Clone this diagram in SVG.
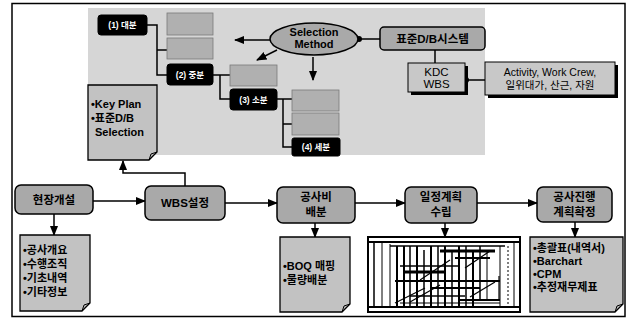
<svg xmlns="http://www.w3.org/2000/svg" width="631" height="322" viewBox="0 0 631 322">
<style>
text{font-family:"Liberation Sans","Noto Sans CJK KR",sans-serif;font-weight:bold;fill:#000}
.node{fill:#a9a9a9;stroke:#000;stroke-width:1.5}
.doc{fill:#c2c2c2;stroke:#000;stroke-width:1.3}
.blk{fill:#000;stroke:#000}
.wt{fill:#fff;font-size:8.5px}
.gbox{fill:#b0b0b0;stroke:#7a7a7a;stroke-width:0.8}
.c{fill:none;stroke:#000;stroke-width:1.5}
.n{font-size:11.5px}
.d{font-size:11px}
.r{font-weight:normal}
.g line{stroke:#000}
</style>
<defs>
<marker id="ah" viewBox="0 0 10 10" refX="9" refY="5" markerWidth="7" markerHeight="7" orient="auto-start-reverse">
<path d="M0,1 L10,5 L0,9 Z" fill="#000"/>
</marker>
<marker id="dot" viewBox="0 0 6 6" refX="3" refY="3" markerWidth="4" markerHeight="4">
<circle cx="3" cy="3" r="3" fill="#000"/>
</marker>
</defs>
<rect x="0" y="0" width="631" height="322" fill="#fff"/>
<rect x="12" y="3.5" width="613" height="313" fill="none" stroke="#000" stroke-width="1.5"/>
<rect id="upper-region" x="88" y="8" width="397" height="147" fill="#d6d6d6"/>

<g id="connectors">
<path class="c" d="M147,25 H157 V75 H167 M157,50 H167"/>
<path class="c" d="M213,75 H230 M220,75 V99 H230"/>
<path class="c" d="M277,99 H292 M283,99 V147 H292 M283,124 H292"/>
<line class="c" x1="270" y1="40" x2="235" y2="40" marker-end="url(#ah)"/>
<line class="c" x1="277" y1="50" x2="257" y2="60" marker-end="url(#ah)"/>
<line class="c" x1="313" y1="57" x2="313" y2="80" marker-end="url(#ah)"/>
<line class="c" x1="359" y1="39" x2="380" y2="39" marker-start="url(#dot)"/>
<line class="c" x1="435" y1="50" x2="435" y2="63"/>
<line class="c" x1="466" y1="80" x2="485" y2="80" marker-start="url(#dot)"/>
<path class="c" d="M185,186 V173 H123 V161" marker-end="url(#ah)"/>
<line class="c" x1="93" y1="201" x2="145" y2="201" marker-end="url(#ah)"/>
<line class="c" x1="225" y1="203" x2="277" y2="203" marker-end="url(#ah)"/>
<line class="c" x1="355" y1="203" x2="405" y2="203" marker-end="url(#ah)"/>
<line class="c" x1="477" y1="203" x2="537" y2="203" marker-end="url(#ah)"/>
<line class="c" x1="54" y1="213" x2="54" y2="235" marker-end="url(#ah)"/>
<line class="c" x1="315" y1="223" x2="315" y2="237" marker-end="url(#ah)"/>
<line class="c" x1="445" y1="223" x2="445" y2="237" marker-end="url(#ah)"/>
<line class="c" x1="575" y1="222" x2="575" y2="237" marker-end="url(#ah)"/>
</g>

<g id="lv1"><rect class="blk" x="98" y="15" width="49" height="20" rx="3"/><text class="wt" x="122.5" y="28" text-anchor="middle">(1) 대분</text></g>
<g id="lv1-a"><rect class="gbox" x="167" y="13" width="46" height="22"/></g>
<g id="lv1-b"><rect class="gbox" x="167" y="38" width="46" height="21"/></g>
<g id="lv2"><rect class="blk" x="167" y="64" width="46" height="21" rx="3"/><text class="wt" x="190" y="77.5" text-anchor="middle">(2) 중분</text></g>
<g id="lv2-a"><rect class="gbox" x="230" y="65" width="47" height="21"/></g>
<g id="lv3"><rect class="blk" x="230" y="89" width="47" height="21" rx="3"/><text class="wt" x="253.5" y="102.5" text-anchor="middle">(3) 소분</text></g>
<g id="lv3-a"><rect class="gbox" x="292" y="90" width="47" height="21"/></g>
<g id="lv3-b"><rect class="gbox" x="292" y="113" width="47" height="22"/></g>
<g id="lv4"><rect class="blk" x="292" y="138" width="48" height="18" rx="2"/><text class="wt" x="316" y="150" text-anchor="middle">(4) 세분</text></g>

<g id="selection-method"><ellipse cx="314" cy="39" rx="44" ry="16" fill="#a9a9a9" stroke="#000" stroke-width="1.5"/>
<text x="314" y="36" font-size="11" text-anchor="middle">Selection</text><text x="314" y="48" font-size="11" text-anchor="middle">Method</text></g>

<g id="std-db"><rect class="node" x="380" y="27" width="105" height="23" rx="4" stroke-width="2"/><text class="n" x="432.5" y="43" text-anchor="middle">표준D/B시스템</text></g>

<g id="kdc-wbs"><rect x="411" y="66" width="57" height="29" fill="#000"/><rect x="408" y="63" width="57" height="29" fill="#c8c8c8" stroke="#000" stroke-width="1"/>
<text class="n r" x="436.5" y="76" text-anchor="middle">KDC</text><text class="n r" x="436.5" y="88" text-anchor="middle">WBS</text></g>

<g id="activity"><rect x="488" y="65" width="130" height="33" fill="#000"/><rect x="485" y="62" width="130" height="33" fill="#c8c8c8" stroke="#000" stroke-width="1"/>
<text class="r" x="550" y="76" font-size="10.5" text-anchor="middle">Activity, Work Crew,</text><text class="r" x="550" y="89" font-size="10.5" text-anchor="middle">일위대가, 산근, 자원</text></g>

<g id="key-plan"><path class="doc" d="M88,85 H157 V152 L149,160 H88 Z"/><path d="M157,152 L151,154 L149,160" fill="none" stroke="#000" stroke-width="1"/>
<text class="d" x="91" y="108">•Key Plan</text><text class="d" x="91" y="122">•표준D/B</text><text class="d" x="95" y="136">Selection</text></g>

<g id="site-open"><rect class="node" x="15" y="185" width="78" height="29" rx="6"/><text class="n" x="54" y="203.5" text-anchor="middle">현장개설</text></g>
<g id="wbs-set"><rect class="node" x="145" y="186" width="80" height="34" rx="6"/><text class="n" x="185" y="207" text-anchor="middle">WBS설정</text></g>
<g id="cost-alloc"><rect class="node" x="277" y="187" width="78" height="36" rx="6"/><text class="n" x="316" y="201" text-anchor="middle">공사비</text><text class="n" x="316" y="216" text-anchor="middle">배분</text></g>
<g id="schedule"><rect class="node" x="405" y="187" width="72" height="36" rx="6"/><text class="n" x="441" y="201" text-anchor="middle">일정계획</text><text class="n" x="441" y="216" text-anchor="middle">수립</text></g>
<g id="plan-confirm"><rect class="node" x="537" y="187" width="75" height="35" rx="6"/><text class="n" x="574.5" y="201" text-anchor="middle">공사진행</text><text class="n" x="574.5" y="216" text-anchor="middle">계획확정</text></g>

<g id="doc-site"><path class="doc" d="M20,235 H90 V303 L82,311 H20 Z"/><path d="M90,303 L84,305 L82,311" fill="none" stroke="#000"/>
<text class="d" x="23" y="254">•공사개요</text><text class="d" x="23" y="268">•수행조직</text><text class="d" x="23" y="282">•기초내역</text><text class="d" x="23" y="296">•기타정보</text></g>

<g id="doc-boq"><path class="doc" d="M280,237 H350 V304 L342,312 H280 Z"/><path d="M350,304 L344,306 L342,312" fill="none" stroke="#000"/>
<text class="d" x="283" y="270">•BOQ 매핑</text><text class="d" x="283" y="284">•물량배분</text></g>

<g id="gantt" class="g">
<rect x="368" y="237" width="152" height="75" fill="#fff" stroke="#000" stroke-width="2"/>
<line x1="368" y1="242" x2="520" y2="242" stroke-width="2"/>
<line x1="368" y1="307" x2="520" y2="307" stroke-width="2"/>
<line x1="374" y1="242" x2="374" y2="307" stroke-width="1.5"/>
<line x1="382" y1="242" x2="382" y2="307" stroke-width="1"/>
<line x1="390" y1="244" x2="390" y2="307" stroke-width="1"/>
<line x1="397" y1="246" x2="397" y2="307" stroke-width="2"/>
<line x1="404" y1="246" x2="404" y2="307" stroke-width="2"/>
<line x1="410" y1="246" x2="410" y2="307" stroke-width="1.5"/>
<line x1="417" y1="246" x2="417" y2="307" stroke-width="2"/>
<line x1="424" y1="250" x2="424" y2="307" stroke-width="1.5"/>
<line x1="431" y1="246" x2="431" y2="307" stroke-width="2"/>
<line x1="438" y1="246" x2="438" y2="307" stroke-width="1.5"/>
<line x1="445" y1="246" x2="445" y2="307" stroke-width="2"/>
<line x1="452" y1="250" x2="452" y2="307" stroke-width="1.5"/>
<line x1="459" y1="246" x2="459" y2="307" stroke-width="2"/>
<line x1="466" y1="246" x2="466" y2="307" stroke-width="1.5"/>
<line x1="473" y1="250" x2="473" y2="307" stroke-width="2"/>
<line x1="480" y1="246" x2="480" y2="300" stroke-width="1.5"/>
<line x1="487" y1="250" x2="487" y2="300" stroke-width="1"/>
<line x1="500" y1="246" x2="500" y2="307" stroke-width="1"/>
<line x1="508" y1="246" x2="508" y2="307" stroke-width="1" stroke-dasharray="2,2"/>
<line x1="514" y1="242" x2="514" y2="307" stroke-width="1"/>
<line x1="390" y1="246" x2="505" y2="246" stroke-width="1.5"/>
<line x1="440" y1="251" x2="495" y2="251" stroke-width="3"/>
<line x1="455" y1="258" x2="490" y2="258" stroke-width="2"/>
<line x1="400" y1="266" x2="460" y2="266" stroke-width="1.5"/>
<line x1="405" y1="272" x2="445" y2="272" stroke-width="3"/>
<line x1="395" y1="281" x2="500" y2="281" stroke-width="2"/>
<line x1="430" y1="288" x2="480" y2="288" stroke-width="2"/>
<line x1="410" y1="296" x2="465" y2="296" stroke-width="1.5"/>
<line x1="460" y1="300" x2="500" y2="300" stroke-width="2"/>
<line x1="400" y1="303" x2="500" y2="303" stroke-width="1"/>
<line x1="490" y1="251" x2="465" y2="268" stroke-width="1.2"/>
<line x1="450" y1="260" x2="420" y2="280" stroke-width="1.2"/>
<line x1="440" y1="285" x2="410" y2="302" stroke-width="1.2"/>
<line x1="495" y1="282" x2="470" y2="297" stroke-width="1.2"/>
<line x1="425" y1="288" x2="395" y2="303" stroke-width="1.2"/>
<line x1="499" y1="276" x2="499" y2="300" stroke-width="1.2"/>
</g>

<g id="doc-output"><path class="doc" d="M530,237 H623 V304 L615,312 H530 Z"/><path d="M623,304 L617,306 L615,312" fill="none" stroke="#000"/>
<text class="d" x="533" y="252">•총괄표(내역서)</text><text class="d" x="533" y="265">•Barchart</text><text class="d" x="533" y="278">•CPM</text><text class="d" x="533" y="291">•추정재무제표</text></g>
</svg>
